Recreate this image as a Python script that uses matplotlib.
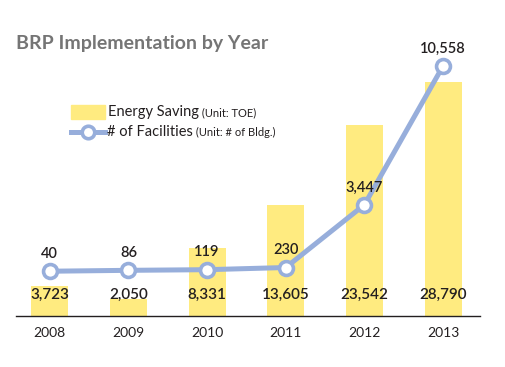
import matplotlib.pyplot as plt
from matplotlib.patches import Rectangle
from matplotlib.lines import Line2D

'''
BRP implementation by year: energy saving bars + facility count line
'''

years = ['2008', '2009', '2010', '2011', '2012', '2013']
energy_saving = [3723, 2050, 8331, 13605, 23542, 28790]       # TOE
facilities = [40, 86, 119, 230, 3447, 10558]                 # # of Bldg.

BAR_COLOR = '#FFEB80'
LINE_COLOR = '#97AEDB'
TEXT_COLOR = '#231F20'

plt.rcParams['font.family'] = ['Lato', 'DejaVu Sans']

fig = plt.figure(figsize=(5.06, 3.67), dpi=100)
ax1 = fig.add_axes([16 / 506, 51 / 367, 464 / 506, 286 / 367])
x = range(len(years))

ax1.bar(x, energy_saving, width=0.47, color=BAR_COLOR, zorder=1)
ax1.set_ylim(0, 35200)
ax1.set_xlim(-0.43, 5.47)

for xi, v in zip(x, energy_saving):
    ax1.annotate(f'{v:,}', (xi, 0), xytext=(0, 15), textcoords='offset points',
                 ha='center', va='center', fontsize=11, fontweight='semibold',
                 color=TEXT_COLOR, zorder=5)

ax2 = ax1.twinx()
ax2.plot(x, facilities, color=LINE_COLOR, lw=3.6, marker='o', ms=10,
         mfc='white', mec=LINE_COLOR, mew=2.6, zorder=3)
ax2.set_ylim(-2255, 12404)

for xi, v in zip(x, facilities):
    ax2.annotate(f'{v:,}', (xi, v), xytext=(0, 12.5), textcoords='offset points',
                 ha='center', va='center', fontsize=10.5, fontweight='semibold',
                 color=TEXT_COLOR)

for a in (ax1, ax2):
    for s in ('top', 'right', 'left'):
        a.spines[s].set_visible(False)
    a.set_yticks([])
ax2.spines['bottom'].set_visible(False)
ax1.spines['bottom'].set_linewidth(1.0)
ax1.spines['bottom'].set_color(TEXT_COLOR)

ax1.set_xticks(list(x))
ax1.set_xticklabels(years, fontsize=10, color=TEXT_COLOR)
ax1.tick_params(axis='x', length=0, pad=8)

# title
fig.text(16 / 506, 1 - 44 / 367, 'BRP Implementation by Year', fontsize=14,
         fontweight='bold', color='#757575', ha='left', va='center')

# legend, drawn by hand so the unit part can be smaller
tr = fig.transFigure
fig.patches.append(Rectangle((71 / 506, 1 - 119 / 367), 34 / 506, 14 / 367,
                             transform=tr, color=BAR_COLOR, figure=fig))
fig.lines.append(Line2D([71 / 506, 105 / 506], [1 - 132 / 367] * 2, transform=tr,
                        color=LINE_COLOR, lw=3.6, figure=fig))
fig.lines.append(Line2D([88 / 506], [1 - 132 / 367], transform=tr, marker='o',
                        ms=9, mfc='white', mec=LINE_COLOR, mew=2.6, figure=fig))

t1 = fig.text(108 / 506, 1 - 112 / 367, 'Energy Saving', fontsize=10.5,
              color=TEXT_COLOR, va='center', ha='left')
t2 = fig.text(107 / 506, 1 - 132 / 367, '# of Facilities', fontsize=10.5,
              color=TEXT_COLOR, va='center', ha='left')
ax1.annotate(' (Unit: TOE)', xy=(1, 0.05), xycoords=t1, va='bottom', ha='left',
             fontsize=8, color=TEXT_COLOR)
ax1.annotate(' (Unit: # of Bldg.)', xy=(1, 0.05), xycoords=t2, va='bottom', ha='left',
             fontsize=8, color=TEXT_COLOR)

plt.savefig('out.png', dpi=100)
